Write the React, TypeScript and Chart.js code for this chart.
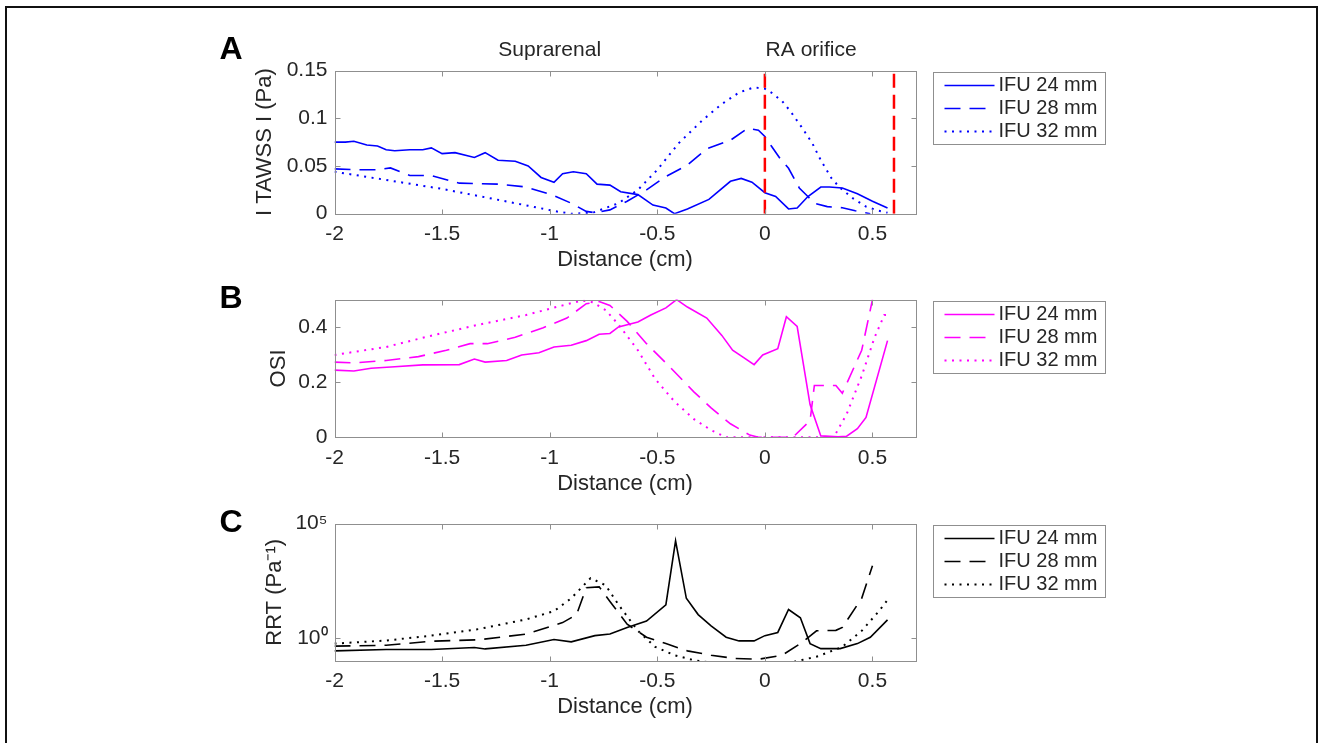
import React, { useEffect, useRef } from "react";
import { Chart, registerables } from "chart.js";

Chart.register(...registerables);

const FONT = '"Liberation Sans", Arial, Helvetica, sans-serif';
const TEXT = "#262626";
const BOX = "#8f8f8f";

// ---------- ticks / labels ----------
const xTicks = [-2, -1.5, -1, -0.5, 0, 0.5];
const xRange = [-2, 0.7];
const tawssTicks = [0, 0.05, 0.1, 0.15];
const osiTicks = [0, 0.2, 0.4];
const rrtTicks = [1, 100000];
const rrtTickLabels = ["10\u2070", "10\u2075"];
const legendLabels = ["IFU 24 mm", "IFU 28 mm", "IFU 32 mm"];
const raLines = [0, 0.6];

// ---------- A: |TAWSS| ----------
const tawss24X = [-2, -1.95, -1.91, -1.85, -1.8, -1.76, -1.72, -1.65, -1.59, -1.55, -1.5, -1.44, -1.35, -1.3, -1.24, -1.16, -1.1, -1.04, -0.98, -0.94, -0.89, -0.83, -0.78, -0.72, -0.67, -0.59, -0.52, -0.46, -0.42, -0.36, -0.26, -0.16, -0.11, -0.06, 0, 0.05, 0.11, 0.15, 0.2, 0.26, 0.3, 0.36, 0.43, 0.5, 0.57];
const tawss24Y = [0.075, 0.075, 0.076, 0.072, 0.071, 0.067, 0.066, 0.067, 0.067, 0.069, 0.063, 0.064, 0.059, 0.064, 0.056, 0.055, 0.05, 0.038, 0.033, 0.042, 0.044, 0.042, 0.031, 0.03, 0.023, 0.02, 0.009, 0.006, 0.0, 0.005, 0.015, 0.034, 0.037, 0.033, 0.022, 0.018, 0.005, 0.006, 0.018, 0.028, 0.028, 0.027, 0.021, 0.013, 0.006];
const tawss28X = [-2, -1.9, -1.8, -1.74, -1.65, -1.55, -1.42, -1.24, -1.11, -0.98, -0.9, -0.83, -0.79, -0.72, -0.64, -0.55, -0.46, -0.36, -0.27, -0.16, -0.08, -0.03, 0, 0.03, 0.07, 0.11, 0.16, 0.2, 0.23, 0.29, 0.36, 0.42, 0.49];
const tawss28Y = [0.047, 0.046, 0.046, 0.048, 0.04, 0.04, 0.032, 0.031, 0.028, 0.019, 0.011, 0.0024, 0.001, 0.004, 0.013, 0.025, 0.039, 0.051, 0.068, 0.077, 0.0895, 0.0875, 0.081, 0.071, 0.058, 0.0476, 0.027, 0.018, 0.011, 0.0074, 0.0063, 0.003, 0.0];
const tawss32X = [-2, -1.75, -1.5, -1.25, -1.1, -0.96, -0.9, -0.8, -0.68, -0.59, -0.5, -0.4, -0.29, -0.2, -0.12, -0.05, 0, 0.03, 0.08, 0.12, 0.17, 0.22, 0.26, 0.31, 0.35, 0.41, 0.47, 0.53, 0.57];
const tawss32Y = [0.044, 0.035, 0.026, 0.015, 0.0083, 0.002, 0.0, 0.001, 0.011, 0.025, 0.046, 0.074, 0.098, 0.115, 0.127, 0.1325, 0.131, 0.127, 0.118, 0.107, 0.091, 0.074, 0.056, 0.037, 0.027, 0.016, 0.0074, 0.003, 0.001];

// ---------- B: OSI ----------
const osi24X = [-2, -1.91, -1.83, -1.72, -1.59, -1.42, -1.35, -1.3, -1.2, -1.13, -1.05, -0.98, -0.9, -0.83, -0.77, -0.72, -0.68, -0.59, -0.53, -0.46, -0.41, -0.36, -0.27, -0.2, -0.15, -0.1, -0.05, -0.01, 0.06, 0.1, 0.15, 0.21, 0.26, 0.34, 0.38, 0.43, 0.47, 0.57];
const osi24Y = [0.244, 0.241, 0.251, 0.256, 0.263, 0.264, 0.284, 0.273, 0.279, 0.299, 0.307, 0.328, 0.334, 0.351, 0.374, 0.377, 0.401, 0.419, 0.444, 0.47, 0.5, 0.473, 0.433, 0.37, 0.316, 0.29, 0.264, 0.299, 0.322, 0.438, 0.403, 0.119, 0.005, 0.002, 0.004, 0.031, 0.072, 0.351];
const osi28X = [-2, -1.91, -1.76, -1.61, -1.48, -1.37, -1.29, -1.16, -1.03, -0.92, -0.83, -0.77, -0.72, -0.64, -0.55, -0.46, -0.33, -0.25, -0.16, -0.07, -0.03, 0.13, 0.21, 0.23, 0.33, 0.36, 0.45, 0.5];
const osi28Y = [0.273, 0.27, 0.279, 0.293, 0.316, 0.34, 0.34, 0.363, 0.398, 0.433, 0.485, 0.493, 0.479, 0.421, 0.34, 0.27, 0.165, 0.107, 0.049, 0.008, 0, 0, 0.06, 0.188, 0.188, 0.16, 0.316, 0.5];
const osi32X = [-2, -1.76, -1.55, -1.33, -1.11, -0.94, -0.85, -0.8, -0.74, -0.68, -0.59, -0.51, -0.42, -0.33, -0.25, -0.18, 0.32, 0.38, 0.45, 0.51, 0.555, 0.57];
const osi32Y = [0.299, 0.328, 0.369, 0.409, 0.444, 0.479, 0.497, 0.49, 0.462, 0.409, 0.316, 0.212, 0.13, 0.066, 0.026, 0, 0, 0.084, 0.223, 0.363, 0.444, 0.445];

// ---------- C: RRT ----------
const rrt24X = [-2, -1.76, -1.55, -1.35, -1.3, -1.11, -0.98, -0.9, -0.79, -0.72, -0.64, -0.55, -0.46, -0.415, -0.365, -0.31, -0.25, -0.18, -0.12, -0.05, 0, 0.06, 0.11, 0.165, 0.21, 0.26, 0.35, 0.43, 0.49, 0.57];
const rrt24Y = [0.28, 0.32, 0.32, 0.39, 0.34, 0.49, 0.87, 0.69, 1.29, 1.51, 2.95, 5.6, 28.8, 17800, 55, 10.7, 3.47, 1.1, 0.76, 0.76, 1.29, 1.78, 17.8, 7.8, 0.58, 0.35, 0.35, 0.58, 1.1, 6.3];
const rrt28X = [-2, -1.76, -1.55, -1.33, -1.11, -0.94, -0.875, -0.83, -0.77, -0.72, -0.64, -0.55, -0.46, -0.36, -0.25, -0.14, -0.03, 0.08, 0.165, 0.24, 0.33, 0.36, 0.45, 0.5];
const rrt28Y = [0.45, 0.49, 0.74, 0.85, 1.51, 4.8, 10.7, 158, 174, 40, 4.1, 1.1, 0.58, 0.28, 0.18, 0.13, 0.12, 0.18, 0.58, 2.1, 2.2, 2.95, 55, 1450];
const rrt32X = [-2, -1.76, -1.55, -1.33, -1.11, -0.98, -0.9, -0.81, -0.74, -0.68, -0.59, -0.51, -0.42, -0.33, -0.25, -0.14, 0, 0.14, 0.25, 0.36, 0.45, 0.53, 0.57];
const rrt32Y = [0.58, 0.79, 1.29, 2.5, 6.6, 15.1, 55, 417, 204, 28.8, 2.1, 0.42, 0.18, 0.11, 0.087, 0.071, 0.06, 0.095, 0.166, 0.42, 2.1, 15.1, 46.8];

// ---------- helpers ----------
const pts = (xs: number[], ys: number[]) => xs.map((x, i) => ({ x, y: ys[i] }));

const DASH = [16, 9];
const DOT = [2, 5.5];

function seriesSet(color: string, data: { x: number; y: number }[][]) {
  const dashes = [[], DASH, DOT];
  return data.map((d, i) => ({
    label: legendLabels[i],
    data: d,
    borderColor: color,
    borderWidth: i === 2 ? 2 : 1.6,
    borderDash: dashes[i],
    pointRadius: 0,
    tension: 0,
    fill: false,
  }));
}

const matlabPlugin = {
  id: "matlab",
  afterDraw(chart: any, _args: any, opts: any) {
    const { ctx, chartArea: a, scales } = chart;
    const xs = scales.x;
    const ys = scales.y;
    ctx.save();
    // axes box
    ctx.strokeStyle = BOX;
    ctx.lineWidth = 1;
    ctx.setLineDash([]);
    const L = Math.round(a.left) + 0.5;
    const R = Math.round(a.right) + 0.5;
    const T = Math.round(a.top) + 0.5;
    const B = Math.round(a.bottom) + 0.5;
    ctx.strokeRect(L, T, R - L, B - T);
    const TL = 5;
    ctx.beginPath();
    xs.ticks.forEach((t: any) => {
      const px = Math.round(xs.getPixelForValue(t.value)) + 0.5;
      ctx.moveTo(px, B);
      ctx.lineTo(px, B - TL);
      ctx.moveTo(px, T);
      ctx.lineTo(px, T + TL);
    });
    ys.ticks.forEach((t: any) => {
      const py = Math.round(ys.getPixelForValue(t.value)) + 0.5;
      ctx.moveTo(L, py);
      ctx.lineTo(L + TL, py);
      ctx.moveTo(R, py);
      ctx.lineTo(R - TL, py);
    });
    ctx.stroke();

    // legend
    const bx = Math.round(a.right) + 17.5;
    const by = Math.round(a.top) + 1.5;
    const bw = 172;
    const bh = 72;
    ctx.fillStyle = "#fff";
    ctx.fillRect(bx, by, bw, bh);
    ctx.strokeStyle = BOX;
    ctx.lineWidth = 1;
    ctx.strokeRect(bx, by, bw, bh);
    const items = chart.data.datasets.filter((d: any) => d.label);
    items.forEach((d: any, i: number) => {
      const y = by + 13 + i * 23;
      ctx.strokeStyle = d.borderColor;
      ctx.lineWidth = d.borderWidth;
      ctx.setLineDash(d.borderDash || []);
      ctx.beginPath();
      ctx.moveTo(bx + 11, y);
      ctx.lineTo(bx + 61, y);
      ctx.stroke();
      ctx.setLineDash([]);
      ctx.fillStyle = TEXT;
      ctx.font = `20px ${FONT}`;
      ctx.textBaseline = "middle";
      ctx.textAlign = "left";
      ctx.fillText(d.label, bx + 65, y);
    });

    // panel letter
    ctx.fillStyle = "#000";
    ctx.font = `bold 32px ${FONT}`;
    ctx.textAlign = "center";
    ctx.textBaseline = "middle";
    ctx.fillText(opts.letter, 231, a.top + opts.letterDy);

    // annotations
    (opts.notes || []).forEach((n: any) => {
      ctx.fillStyle = TEXT;
      ctx.font = `21px ${FONT}`;
      ctx.textAlign = "center";
      ctx.fillText(n.text, xs.getPixelForValue(n.x), a.top + n.dy);
    });
    ctx.restore();
  },
};

const PLOT_LEFT = 334.5;
const PLOT_RIGHT = 915.5;
const X_AXIS_H = 59.5;
const W = 1318;

interface PanelSpec {
  canvasTop: number;
  canvasH: number;
  plotTop: number;
  plotBottom: number;
  yAxisW: number;
  yTitle: string;
  yType: "linear" | "logarithmic";
  yMin: number;
  yMax: number;
  yTicks: number[];
  yLabel: (v: number, i: number) => string;
  datasets: any[];
  letter: string;
  letterDy: number;
  notes?: { text: string; x: number; dy: number }[];
}

function buildConfig(p: PanelSpec): any {
  return {
    type: "line",
    data: { datasets: p.datasets },
    plugins: [matlabPlugin],
    options: {
      responsive: false,
      maintainAspectRatio: false,
      animation: false,
      devicePixelRatio: 1,
      layout: {
        padding: {
          left: PLOT_LEFT - p.yAxisW,
          right: W - PLOT_RIGHT,
          top: p.plotTop - p.canvasTop,
          bottom: p.canvasTop + p.canvasH - p.plotBottom - X_AXIS_H,
        },
      },
      plugins: {
        legend: { display: false },
        tooltip: { enabled: false },
        matlab: { letter: p.letter, letterDy: p.letterDy, notes: p.notes },
      },
      scales: {
        x: {
          type: "linear",
          min: xRange[0],
          max: xRange[1],
          afterBuildTicks: (s: any) => {
            s.ticks = xTicks.map((v) => ({ value: v }));
          },
          afterFit: (s: any) => {
            s.height = X_AXIS_H;
          },
          grid: { display: false, drawTicks: false },
          border: { display: false },
          ticks: {
            font: { family: FONT, size: 21 },
            color: TEXT,
            padding: 8,
            maxRotation: 0,
            autoSkip: false,
            callback: (v: number) => String(v),
          },
          title: {
            display: true,
            text: "Distance (cm)",
            font: { family: FONT, size: 22 },
            color: TEXT,
            padding: 0,
          },
        },
        y: {
          type: p.yType,
          min: p.yMin,
          max: p.yMax,
          afterBuildTicks: (s: any) => {
            s.ticks = p.yTicks.map((v) => ({ value: v }));
          },
          afterFit: (s: any) => {
            s.width = p.yAxisW;
          },
          grid: { display: false, drawTicks: false },
          border: { display: false },
          ticks: {
            font: { family: FONT, size: 21 },
            color: TEXT,
            padding: 7,
            autoSkip: false,
            callback: (v: number, i: number) => p.yLabel(v, i),
          },
          title: {
            display: true,
            text: p.yTitle,
            font: { family: FONT, size: 22 },
            color: TEXT,
            padding: 0,
          },
        },
      },
    },
  };
}

const redLines = raLines.map((x) => ({
  data: [
    { x, y: tawssTicks[0] },
    { x, y: tawssTicks[tawssTicks.length - 1] },
  ],
  borderColor: "#ff0000",
  borderWidth: 2.5,
  borderDash: [14, 7],
  pointRadius: 0,
  order: -1,
}));

const panels: PanelSpec[] = [
  {
    canvasTop: 0,
    canvasH: 280,
    plotTop: 70.6,
    plotBottom: 213.7,
    yAxisW: 82.7,
    yTitle: "I TAWSS I (Pa)",
    yType: "linear",
    yMin: 0,
    yMax: 0.15,
    yTicks: tawssTicks,
    yLabel: (v) => String(v),
    datasets: [
      ...redLines,
      ...seriesSet("#0000ff", [pts(tawss24X, tawss24Y), pts(tawss28X, tawss28Y), pts(tawss32X, tawss32Y)]),
    ],
    letter: "A",
    letterDy: -20.6,
    notes: [
      { text: "Suprarenal", x: -1, dy: -20.6 },
      { text: "RA orifice", x: 0.215, dy: -20.6 },
    ],
  },
  {
    canvasTop: 280,
    canvasH: 224,
    plotTop: 294.2,
    plotBottom: 437.3,
    yAxisW: 68.7,
    yTitle: "OSI",
    yType: "linear",
    yMin: 0,
    yMax: 0.5,
    yTicks: osiTicks,
    yLabel: (v) => String(v),
    datasets: seriesSet("#ff00ff", [pts(osi24X, osi24Y), pts(osi28X, osi28Y), pts(osi32X, osi32Y)]),
    letter: "B",
    letterDy: 0,
  },
  {
    canvasTop: 504,
    canvasH: 239,
    plotTop: 518,
    plotBottom: 661.1,
    yAxisW: 72.7,
    yTitle: "RRT (Pa\u207B\u00B9)",
    yType: "logarithmic",
    yMin: 0.1,
    yMax: 100000,
    yTicks: rrtTicks,
    yLabel: (_v, i) => rrtTickLabels[i],
    datasets: seriesSet("#000000", [pts(rrt24X, rrt24Y), pts(rrt28X, rrt28Y), pts(rrt32X, rrt32Y)]),
    letter: "C",
    letterDy: 0,
  },
];

function Panel({ spec }: { spec: PanelSpec }) {
  const ref = useRef<HTMLCanvasElement>(null);
  useEffect(() => {
    const chart = new Chart(ref.current as HTMLCanvasElement, buildConfig(spec));
    return () => chart.destroy();
  }, [spec]);
  return (
    <canvas
      ref={ref}
      width={W}
      height={spec.canvasH}
      style={{ position: "absolute", left: 0, top: spec.canvasTop, width: W, height: spec.canvasH, display: "block" }}
    />
  );
}

export default function App() {
  return (
    <div
      style={{
        position: "absolute",
        left: 0,
        top: 0,
        width: 1318,
        height: 743,
        overflow: "hidden",
        background: "#fff",
        fontFamily: FONT,
      }}
    >
      <div
        style={{
          position: "absolute",
          left: 5,
          top: 6,
          width: 1313,
          height: 800,
          border: "2px solid #111",
          boxSizing: "border-box",
        }}
      />
      {panels.map((p) => (
        <Panel key={p.letter} spec={p} />
      ))}
    </div>
  );
}
